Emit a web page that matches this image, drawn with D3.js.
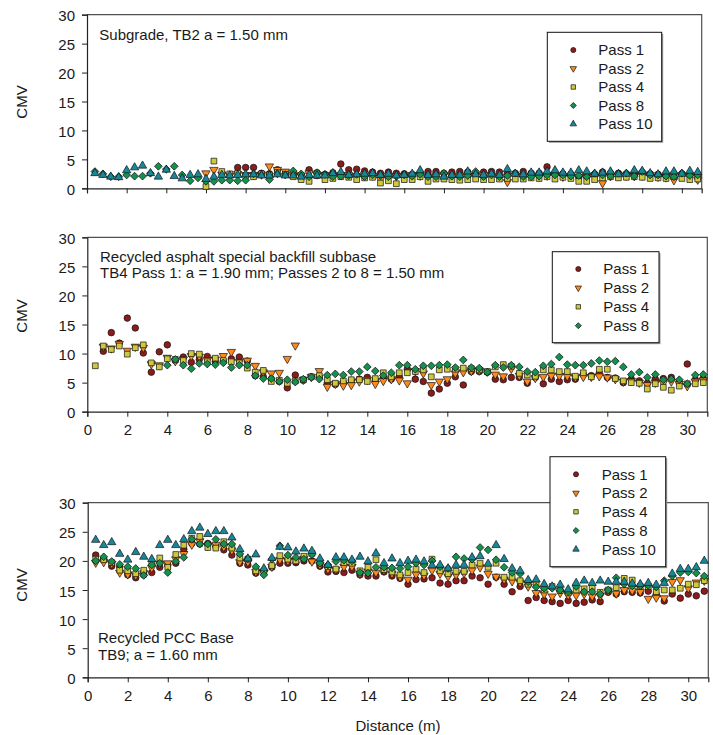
<!DOCTYPE html>
<html><head><meta charset="utf-8">
<script src="https://cdn.jsdelivr.net/npm/d3@7"></script>
<style>
body{margin:0;background:#fff}
svg{display:block}
text{font-family:"Liberation Sans",Arial,sans-serif;font-size:15px;fill:#1a1a1a}
</style>
</head><body><svg id="c" width="713" height="735"></svg>
<script>
// ---------------- DATA ----------------
const distance = [0.4,0.8,1.2,1.6,2.0,2.4,2.8,3.2,3.6,4.0,
 4.4,4.8,5.2,5.6,6.0,6.4,6.8,7.2,7.6,8.0,
 8.4,8.8,9.2,9.6,10.0,10.4,10.8,11.2,11.6,12.0,
 12.4,12.8,13.2,13.6,14.0,14.4,14.8,15.2,15.6,16.0,
 16.4,16.8,17.2,17.6,18.0,18.4,18.8,19.2,19.6,20.0,
 20.4,20.8,21.2,21.6,22.0,22.4,22.8,23.2,23.6,24.0,
 24.4,24.8,25.2,25.6,26.0,26.4,26.8,27.2,27.6,28.0,
 28.4,28.8,29.2,29.6,30.0,30.4,30.8];
const passNames = ["Pass 1","Pass 2","Pass 4","Pass 8","Pass 10"];
const xTicks = [0,2,4,6,8,10,12,14,16,18,20,22,24,26,28,30];
const yTicks = [0,5,10,15,20,25,30];
const N = null;

// Subgrade TB2
const sub_p1 = [N,N,N,N,N,N,N,N,N,N,
 N,N,N,N,N,N,N,N,3.6,3.6,
 3.6,2.6,2.5,3.2,2.6,2.4,2.3,3.2,2.7,2.4,
 2.7,4.2,3.2,3.3,3.0,2.8,2.6,2.8,2.6,2.5,
 2.4,2.6,2.9,2.9,2.6,2.8,2.9,2.8,2.6,2.8,
 2.9,2.8,2.5,2.6,2.9,2.6,2.6,3.7,2.5,2.5,
 2.4,1.9,2.4,2.4,2.8,2.6,2.6,2.5,2.5,2.6,
 2.5,2.4,2.4,2.5,2.5,2.4,2.4];
const sub_p2 = [N,N,N,N,N,N,N,N,N,N,
 N,N,N,N,2.6,3.2,2.4,2.2,2.5,2.3,
 2.3,2.4,3.8,3.2,2.9,2.4,2.2,2.6,2.4,2.3,
 2.2,2.3,2.3,2.1,2.4,2.2,1.5,2.2,2.1,2.2,
 2.3,2.2,2.0,2.2,2.3,2.1,2.2,2.0,2.1,2.3,
 2.2,2.0,1.1,2.2,2.1,2.2,2.0,2.2,2.3,2.0,
 2.1,2.0,1.7,2.0,0.9,2.1,2.2,2.2,2.1,2.2,
 2.3,2.0,1.9,1.4,2.2,2.0,1.5];
const sub_p4 = [N,N,N,N,N,N,N,N,N,N,
 N,N,N,N,0.3,4.7,2.9,2.5,2.6,2.2,
 2.0,2.5,2.3,2.7,2.4,2.0,1.5,1.2,2.2,1.5,
 1.7,2.0,1.9,1.5,1.8,1.9,0.9,1.3,0.8,1.5,
 1.5,2.0,1.2,1.6,1.6,1.5,1.4,1.5,1.6,1.5,
 1.5,1.6,1.7,1.6,1.6,1.8,1.7,2.0,1.6,1.9,
 1.7,1.2,1.2,1.5,1.8,2.0,1.8,1.9,2.0,1.9,
 1.7,1.8,1.7,2.0,1.7,1.5,1.6];
const sub_p8 = [2.9,2.5,2.0,2.0,2.3,2.1,2.1,2.6,3.8,3.3,
 3.8,2.3,1.3,1.8,1.2,1.2,1.4,1.4,1.3,1.4,
 2.5,2.3,1.5,2.5,2.3,3.0,2.5,2.0,2.7,2.4,
 2.0,2.1,2.2,2.4,2.0,2.3,2.2,2.0,2.1,2.3,
 2.1,2.4,2.0,2.0,2.6,2.1,2.0,2.2,2.9,2.0,
 2.3,2.0,2.2,2.6,2.0,2.0,2.1,2.3,2.3,2.3,
 2.1,2.2,2.0,2.6,2.3,2.1,2.6,2.6,2.1,2.9,
 2.3,2.3,2.1,2.0,2.6,2.2,2.3];
const sub_p10 = [2.6,2.3,2.0,1.9,3.1,3.6,3.9,2.6,2.0,3.2,
 2.1,1.7,2.3,2.4,1.6,2.0,2.3,2.2,2.3,2.4,
 2.4,2.2,2.2,2.4,2.2,2.2,2.0,2.3,2.2,2.2,
 2.6,2.8,2.3,2.4,2.5,2.6,2.3,2.5,2.2,2.3,
 2.5,3.1,2.3,2.4,2.0,2.3,2.3,2.9,2.4,2.3,
 2.5,2.3,3.3,2.5,2.4,2.7,2.7,2.9,3.1,2.7,
 2.7,3.1,2.9,2.5,2.7,2.9,2.4,2.5,3.1,3.0,
 2.6,2.4,2.9,2.9,2.5,3.0,2.8];

// Recycled asphalt TB4
const ra_p1 = [N,10.4,13.6,11.8,16.1,14.4,10.1,6.8,10.3,11.5,
 8.8,9.4,8.5,9.0,9.5,8.6,8.7,9.1,9.4,8.7,
 6.2,6.0,5.6,5.2,4.1,6.3,5.4,6.0,6.0,4.9,
 4.7,5.0,5.4,5.6,5.9,5.4,5.8,5.6,6.0,7.3,
 5.6,5.2,3.2,3.9,4.9,6.0,4.6,6.9,6.9,6.8,
 5.6,5.5,5.9,5.9,4.9,5.9,4.8,5.6,5.2,5.5,
 5.6,6.4,6.2,6.6,5.9,5.8,5.0,5.6,5.3,4.9,
 5.6,5.7,5.9,5.0,8.2,5.5,5.7];
const ra_p2 = [N,11.2,10.9,11.7,10.5,11.2,11.0,8.2,8.0,9.3,
 8.7,9.0,9.6,9.5,8.9,9.0,9.6,10.3,8.6,8.8,
 7.9,6.8,6.6,6.7,9.1,11.4,5.5,6.0,7.0,4.3,
 4.8,4.5,4.6,5.2,5.5,4.8,5.3,5.6,5.4,4.9,
 7.0,6.6,4.6,5.2,5.6,6.6,6.8,7.0,7.1,6.9,
 6.4,6.1,7.4,6.2,5.2,5.8,6.0,6.2,6.2,6.1,
 5.9,6.0,6.0,6.1,5.9,5.6,5.2,5.3,5.0,4.6,
 5.0,4.9,5.2,4.8,4.4,5.2,5.4];
const ra_p4 = [7.9,11.3,10.7,11.3,9.9,11.0,11.5,8.4,7.7,9.1,
 9.0,8.8,10.0,9.9,8.6,9.2,8.8,8.6,8.4,7.5,
 6.8,7.1,5.2,5.4,4.9,5.3,5.5,6.0,6.2,5.5,
 4.9,5.3,5.5,5.5,5.2,5.7,6.7,6.0,6.7,6.7,
 6.9,7.2,6.0,7.2,7.3,7.3,7.5,7.4,7.2,6.9,
 7.7,8.1,7.8,6.6,6.3,6.1,7.2,7.2,6.9,6.9,
 6.1,6.7,6.0,7.3,7.3,5.7,5.3,5.0,4.9,3.9,
 4.8,4.2,3.7,4.4,4.8,4.8,5.0];
const ra_p8 = [N,N,N,N,N,N,N,N,N,8.0,
 9.0,8.0,7.4,8.3,8.2,8.1,8.4,7.6,8.0,8.0,
 6.2,5.7,5.7,5.2,5.5,5.1,5.6,5.9,5.6,6.3,
 6.5,6.3,6.9,6.9,7.7,7.0,6.2,6.7,8.0,8.0,
 7.3,7.9,7.9,8.0,8.1,7.6,8.9,7.6,7.5,6.8,
 8.0,7.6,8.0,7.7,6.9,6.8,7.9,8.2,9.4,8.1,
 8.0,8.0,8.3,8.8,8.6,8.7,7.7,6.4,6.8,5.9,
 6.4,5.5,5.6,5.5,4.8,6.3,6.4];

// Recycled PCC base TB9
const pcc_p1 = [21.0,20.3,19.1,19.0,17.6,17.1,17.6,18.0,18.9,19.3,
 19.6,22.0,23.0,22.9,23.0,22.5,21.9,21.0,19.6,19.3,
 17.9,18.3,18.9,19.6,19.6,19.7,20.0,20.0,19.1,18.1,
 18.2,18.0,18.4,17.6,17.4,17.4,18.1,17.4,17.0,16.0,
 16.8,16.9,17.1,16.2,16.0,16.6,16.6,17.4,17.1,16.0,
 17.2,16.0,14.7,15.6,13.2,13.7,13.2,13.0,12.7,13.2,
 12.7,12.9,13.3,13.0,14.6,14.3,14.7,14.6,14.5,14.8,
 14.2,13.1,14.3,13.6,14.3,14.0,14.8];
const pcc_p2 = [19.7,19.8,19.5,18.0,17.7,17.5,17.9,18.8,19.5,19.6,
 20.3,21.2,22.8,23.4,22.6,22.8,22.4,21.8,19.8,19.8,
 18.1,18.0,19.0,20.2,20.0,20.1,20.4,19.9,19.3,18.6,
 18.5,19.0,19.0,17.8,18.2,18.0,18.4,17.8,17.2,16.8,
 17.7,17.5,18.4,17.8,17.3,17.6,17.9,18.4,18.9,17.8,
 17.3,16.8,16.5,16.3,15.6,14.5,14.3,13.9,14.5,14.1,
 14.1,14.3,13.9,14.0,14.8,14.4,15.0,14.9,14.7,13.5,
 13.7,13.6,16.4,16.7,15.3,16.3,16.6];
const pcc_p4 = [20.3,20.2,19.7,18.4,18.3,17.8,18.4,19.6,20.5,18.9,
 21.1,22.7,23.9,24.2,22.3,22.2,23.3,22.2,20.5,20.3,
 18.3,18.2,19.2,20.9,20.3,20.0,20.8,21.3,19.8,19.0,
 18.6,19.7,19.6,18.3,18.9,20.2,18.5,18.1,17.6,18.0,
 18.6,18.0,20.3,18.3,17.8,18.2,18.2,19.3,19.6,18.9,
 19.6,17.2,17.2,16.6,16.0,15.9,15.0,15.6,14.9,14.5,
 15.0,15.2,15.5,14.6,15.0,15.4,17.0,16.7,15.6,15.6,
 14.7,15.0,15.0,15.3,16.0,15.9,16.6];
const pcc_p8 = [20.0,20.7,19.9,19.4,19.0,18.7,17.5,19.3,19.6,18.0,
 19.9,20.6,23.7,22.9,22.9,23.7,22.9,22.9,21.2,20.4,
 19.0,17.6,20.3,22.6,21.0,20.6,20.3,21.1,19.6,19.3,
 19.9,20.1,20.0,18.0,17.9,18.9,18.9,18.8,18.7,19.0,
 19.6,19.3,20.0,19.0,18.7,20.7,20.4,20.3,22.3,21.9,
 20.2,18.9,18.0,17.8,16.4,15.5,15.3,15.3,15.0,14.7,
 15.6,14.7,14.7,14.3,15.0,17.1,16.0,15.7,15.7,15.8,
 15.5,16.6,17.4,18.0,18.1,17.9,17.4];
const pcc_p10 = [23.6,22.7,23.2,21.2,20.2,21.5,20.7,20.3,22.7,23.6,
 22.7,23.7,25.1,25.7,24.6,25.1,25.1,24.0,22.0,20.4,
 21.1,18.7,20.5,22.4,22.3,21.6,22.1,21.7,20.4,19.3,
 20.6,20.6,20.2,20.7,19.9,21.3,19.6,20.4,19.6,20.0,
 20.2,19.9,19.2,19.3,18.7,19.3,19.3,20.6,20.8,19.5,
 22.7,20.3,18.7,18.3,16.7,16.8,16.0,15.6,15.9,15.1,
 16.2,16.6,16.2,16.6,16.4,16.4,16.4,16.1,16.0,16.2,
 15.9,16.2,17.8,18.6,18.6,18.9,20.0];

// ---------------- STYLE / LAYOUT ----------------
const style = {
  "Pass 1": {fill:"#8e1b1b", shape:"circle"},
  "Pass 2": {fill:"#ff8a1c", shape:"down"},
  "Pass 4": {fill:"#cdc93a", shape:"square"},
  "Pass 8": {fill:"#14914f", shape:"diamond"},
  "Pass 10":{fill:"#17889a", shape:"up"}
};
const baseSize = {circle:34, down:30, square:33, diamond:30, up:30};

const panels = [
  {x0:87, x1:701.7, yT:14.7, yB:188.3, showX:false,
   series:[sub_p1,sub_p2,sub_p4,sub_p8,sub_p10], names:passNames,
   note:["Subgrade, TB2 a = 1.50 mm"], noteX:99.3, noteY:40,
   cmvY:102,
   leg:{x:547.3,y:32.3,w:114.4,h:109,symX:573.3,txtX:598.3,row0:50,dy:18.5}},
  {x0:87.3, x1:707.3, yT:237.3, yB:411.7, showX:true,
   series:[ra_p1,ra_p2,ra_p4,ra_p8], names:passNames.slice(0,4),
   note:["Recycled asphalt special backfill subbase","TB4 Pass 1: a = 1.90 mm; Passes 2 to 8 = 1.50 mm"], noteX:100, noteY:261.7,
   cmvY:316,
   leg:{x:552.3,y:251.7,w:106.7,h:91,symX:578.3,txtX:603.3,row0:269,dy:18.9}},
  {x0:87.7, x1:708.3, yT:502.7, yB:677.3, showX:true,
   series:[pcc_p1,pcc_p2,pcc_p4,pcc_p8,pcc_p10], names:passNames,
   note:["Recycled PCC Base","TB9; a = 1.60 mm"], noteX:98, noteY:643,
   cmvY:585,
   leg:{x:550,y:456.7,w:115.7,h:110,symX:576,txtX:601.7,row0:474.3,dy:18.75}}
];

const svg = d3.select("#c");

function symPath(shape, scale){
  const s = baseSize[shape]*scale;
  if(shape==="circle") return {d:d3.symbol(d3.symbolCircle, s)(), rot:0};
  if(shape==="square") return {d:d3.symbol(d3.symbolSquare, s)(), rot:0};
  if(shape==="diamond") return {d:d3.symbol(d3.symbolSquare, s)(), rot:45};
  if(shape==="up") return {d:d3.symbol(d3.symbolTriangle, s)(), rot:0};
  return {d:d3.symbol(d3.symbolTriangle, s)(), rot:180};
}

panels.forEach(p=>{
  const x = d3.scaleLinear().domain([0,31]).range([p.x0,p.x1]);
  const y = d3.scaleLinear().domain([0,30]).range([p.yB,p.yT]);
  const g = svg.append("g");

  // frame top/right
  g.append("path")
    .attr("d",`M${p.x0},${p.yT}H${p.x1}V${p.yB}`)
    .attr("fill","none").attr("stroke","#505050").attr("stroke-width",1.2);

  // y axis
  const ya = g.append("g").attr("transform",`translate(${p.x0},0)`)
    .call(d3.axisLeft(y).tickValues(yTicks).tickSize(5).tickPadding(7));
  ya.select(".domain").attr("stroke","#222").attr("stroke-width",1.2);
  ya.selectAll(".tick line").attr("stroke","#222");
  ya.selectAll(".tick text").attr("font-size",15).attr("fill","#1a1a1a")
    .attr("font-family","Liberation Sans, Arial, sans-serif").attr("dy","0.4em");

  // x axis
  const xa = g.append("g").attr("transform",`translate(0,${p.yB})`)
    .call(d3.axisBottom(x).tickValues(xTicks).tickSize(5).tickPadding(8)
      .tickFormat(p.showX ? d3.format("d") : ()=>""));
  xa.select(".domain").attr("stroke","#222").attr("stroke-width",1.2);
  xa.selectAll(".tick line").attr("stroke","#222");
  xa.selectAll(".tick text").attr("font-size",15).attr("fill","#1a1a1a")
    .attr("font-family","Liberation Sans, Arial, sans-serif");

  // CMV label
  g.append("text").attr("transform",`translate(26.5,${p.cmvY}) rotate(-90)`)
    .attr("text-anchor","middle").text("CMV");

  // annotation
  p.note.forEach((t,i)=>{
    g.append("text").attr("x",p.noteX).attr("y",p.noteY+i*16.6).text(t);
  });

  // points
  p.series.forEach((vals,si)=>{
    const st = style[p.names[si]];
    const sp = symPath(st.shape,1);
    const pts = distance.map((d,i)=>({d:d, v:vals[i]})).filter(o=>o.v!==null);
    g.append("g").selectAll("path").data(pts).join("path")
      .attr("d",sp.d)
      .attr("transform",o=>`translate(${x(o.d)},${y(o.v)}) rotate(${sp.rot})`)
      .attr("fill",st.fill).attr("stroke","#111").attr("stroke-width",0.7);
  });

  // legend
  const L = p.leg;
  const lg = g.append("g");
  lg.append("rect").attr("x",L.x+1.5).attr("y",L.y+1.5).attr("width",L.w).attr("height",L.h)
    .attr("fill","#9a9a9a");
  lg.append("rect").attr("x",L.x).attr("y",L.y).attr("width",L.w).attr("height",L.h)
    .attr("fill","#fff").attr("stroke","#111").attr("stroke-width",1);
  p.names.forEach((n,i)=>{
    const st = style[n];
    const sp = symPath(st.shape,0.6);
    const cy = L.row0 + i*L.dy;
    lg.append("path").attr("d",sp.d)
      .attr("transform",`translate(${L.symX},${cy}) rotate(${sp.rot})`)
      .attr("fill",st.fill).attr("stroke","#111").attr("stroke-width",0.7);
    lg.append("text").attr("x",L.txtX).attr("y",cy).attr("dy","0.36em").text(n);
  });
});

svg.append("text").attr("x",398).attr("y",731).attr("text-anchor","middle").text("Distance (m)");
</script>
</body></html>
